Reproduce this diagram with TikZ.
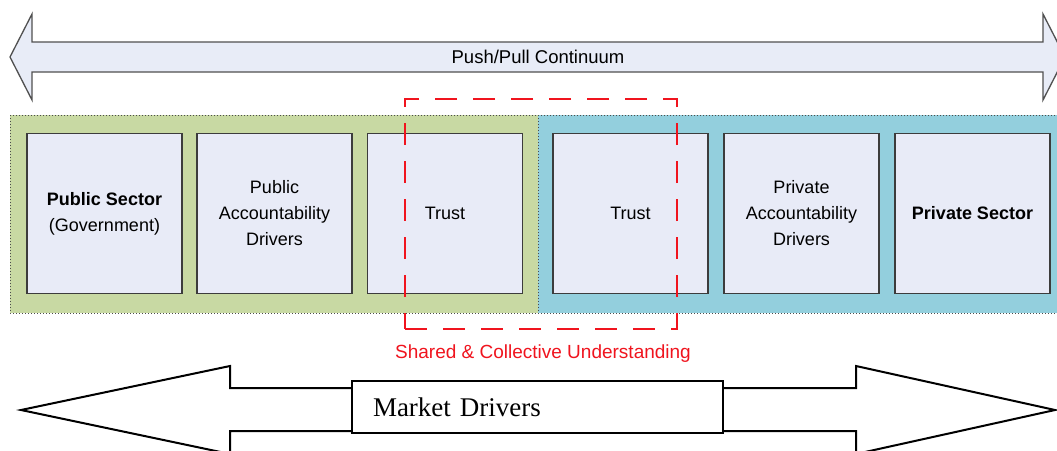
\documentclass[tikz,border=0pt]{standalone}
\usepackage{fontspec}
\setmainfont{Liberation Sans}
\newfontfamily\serifface{Liberation Serif}
\definecolor{arrowfill}{HTML}{E8ECF7}
\definecolor{arrowline}{HTML}{505050}
\definecolor{boxfill}{HTML}{E8EBF7}
\definecolor{boxline}{HTML}{3C3C3C}
\definecolor{publicbg}{HTML}{C8D9A3}
\definecolor{privatebg}{HTML}{93CFDD}
\definecolor{sharedred}{HTML}{F0141E}
\begin{document}
\begin{tikzpicture}[x=1pt,y=-1pt,
  sector/.style={draw=boxline, line width=1.4pt, fill=boxfill,
    minimum width=155pt, minimum height=160pt, inner sep=0pt,
    align=center, font=\fontsize{18}{26}\selectfont},
  regionedge/.style={draw=black!70, line width=1pt, dotted},
  bigarrow/.style={draw=black, line width=2pt, fill=white, line join=miter},
]
\clip (0,0) rectangle (1057,450);
\fill[white] (0,0) rectangle (1057,450);

% push/pull continuum (double block arrow)
\draw[draw=arrowline, line width=1.3pt, fill=arrowfill]
  (10,57) -- (32,14) -- (32,42) -- (1043,42) -- (1043,14) -- (1065,57)
  -- (1043,100) -- (1043,72) -- (32,72) -- (32,100) -- cycle;
\node[font=\fontsize{18.5}{22}\selectfont] (continuum) at (538,57) {Push/Pull Continuum};

% public and private backgrounds
\fill[publicbg] (10,115) rectangle (538,313);
\fill[privatebg] (538,115) rectangle (1062,313);
\draw[regionedge] (10,115) rectangle (1062,313);
\draw[regionedge] (538,115) -- (538,313);

% the six boxes
\node[sector] (pubsec) at (104.5,213.5) {\textbf{Public Sector}\\(Government)};
\node[sector] (pubacc) at (274.5,213.5) {Public\\Accountability\\Drivers};
\node[sector] (pubtrust) at (445,213.5) {Trust};
\node[sector] (privtrust) at (630.5,213.5) {Trust};
\node[sector] (privacc) at (801.5,213.5) {Private\\Accountability\\Drivers};
\node[sector] (privsec) at (972.5,213.5) {\textbf{Private Sector}};

% shared understanding frame
\node[draw=sharedred, line width=2.6pt, dash pattern=on 22pt off 16pt,
  minimum width=272pt, minimum height=230pt, inner sep=0pt] (shared) at (541,214) {};
\node[text=sharedred, font=\fontsize{19}{22}\selectfont] (sharedlabel) at (543,354)
  {Shared \& Collective Understanding};

% market drivers (double block arrow)
\draw[bigarrow]
  (21,410) -- (230,366) -- (230,388) -- (856,388) -- (856,366) -- (1055,410)
  -- (856,454) -- (856,431) -- (230,431) -- (230,454) -- cycle;
\node[draw=black, line width=2pt, fill=white, minimum height=52pt,
  text width=329pt, inner xsep=21pt, inner ysep=0pt, align=left,
  font=\serifface\fontsize{27}{30}\selectfont] (market) at (537.5,407)
  {\raisebox{-5pt}{Market Drivers}};
\end{tikzpicture}
\end{document}
